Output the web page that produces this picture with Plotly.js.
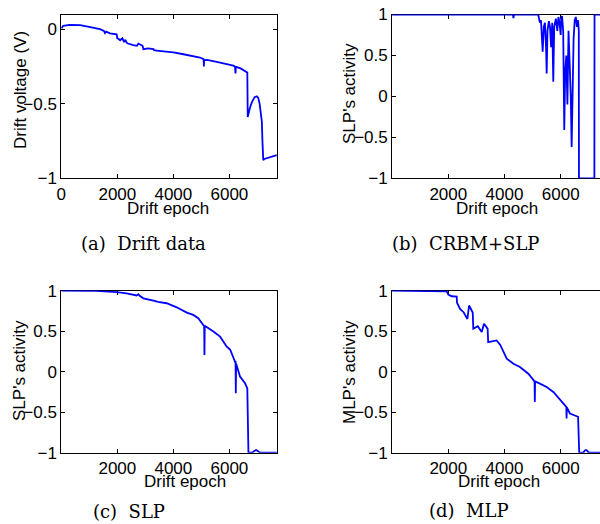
<!DOCTYPE html>
<html>
<head>
<meta charset="utf-8">
<script src="https://cdn.plot.ly/plotly-3.0.1.min.js"></script>
<style>html,body{margin:0;padding:0;background:#fff;}#chart{width:600px;height:524px;}</style>
</head>
<body>
<div id="chart"></div>
<script>
// (a) Drift data
var epochA = [0,70,300,670,900,1150,1380,1520,1560,1600,1740,1976,2000,2050,2100,2180,2240,2290,2330,2380,2450,2570,2700,2750,2800,2900,2930,3100,3290,3310,3400,3760,4000,4360,4700,4950,5080,5090,5100,5110,5200,5550,5900,6140,6200,6220,6230,6240,6400,6620,6640,6655,6680,6730,6800,6900,6980,7030,7080,7130,7160,7180,7210,7250,7400,7550,7690];
var voltA = [0.007,0.024,0.03,0.029,0.02,0.01,0.002,-0.01,-0.025,-0.015,-0.027,-0.033,-0.06,-0.065,-0.073,-0.06,-0.085,-0.07,-0.089,-0.095,-0.10,-0.105,-0.11,-0.096,-0.1,-0.11,-0.133,-0.128,-0.133,-0.14,-0.142,-0.149,-0.155,-0.167,-0.178,-0.189,-0.2,-0.249,-0.205,-0.207,-0.205,-0.218,-0.232,-0.244,-0.25,-0.296,-0.25,-0.252,-0.262,-0.284,-0.29,-0.589,-0.56,-0.53,-0.49,-0.455,-0.449,-0.46,-0.5,-0.58,-0.62,-0.75,-0.878,-0.87,-0.86,-0.852,-0.844];

// (b) CRBM+SLP
var epochB = [0,4300,4320,4340,5200,5260,5300,5340,5359,5400,5440,5480,5502,5530,5580,5620,5660,5700,5737,5770,5830,5880,5920,5960,6000,6020,6050,6090,6128,6160,6200,6240,6280,6320,6360,6391,6420,6460,6500,6540,6580,6620,6645,6651,7200,7205,7400];
var actB = [1,1,0.955,1,1,0.9,0.93,0.7,0.547,0.85,0.9,0.6,0.28,0.8,0.92,0.85,0.6,0.9,0.18,0.85,0.95,0.8,0.97,0.9,0.75,0.95,0.98,0.8,-0.41,0.3,0.5,-0.1,0.8,0.4,0.0,-0.617,0.2,0.7,0.93,0.97,0.85,0.93,0.8,-1,-1,1,1];

// (c) SLP
var epochC = [0,1260,1980,2330,2690,2750,2800,2930,3290,3450,3760,4120,4480,4710,4890,5070,5100,5110,5120,5430,5670,5900,6030,6200,6220,6230,6240,6380,6560,6640,6680,6800,6900,6950,7000,7100,7690];
var actC = [1,0.996,0.98,0.967,0.94,0.955,0.935,0.905,0.877,0.86,0.844,0.794,0.728,0.70,0.66,0.576,0.56,0.206,0.565,0.494,0.432,0.31,0.27,0.123,0.13,-0.267,0.1,-0.06,-0.144,-0.206,-1,-1,-0.975,-0.967,-0.975,-1,-1];

// (d) MLP
var epochD = [0,1500,1945,2000,2120,2300,2310,2420,2550,2680,2740,2870,2890,3050,3190,3270,3400,3420,3720,3850,4080,4320,4550,4850,5030,5070,5080,5090,5260,5500,5740,6090,6200,6210,6220,6330,6620,6660,6800,6880,6920,7000,7400];
var actD = [1,0.995,0.99,0.95,0.93,0.926,0.85,0.775,0.73,0.65,0.816,0.73,0.53,0.56,0.49,0.59,0.53,0.365,0.385,0.33,0.16,0.098,0.057,-0.025,-0.107,-0.12,-0.373,-0.12,-0.148,-0.19,-0.25,-0.393,-0.434,-0.578,-0.44,-0.516,-0.557,-1,-1,-0.967,-0.967,-1,-1];

var xTicksA = [0,2000,4000,6000];
var xTicksOther = [2000,4000,6000];
var yTicksA = [-1,-0.5,0];
var yTicksAct = [-1,-0.5,0,0.5,1];

var captions = ['(a)\u00a0\u00a0Drift data','(b)\u00a0\u00a0CRBM+SLP','(c)\u00a0\u00a0SLP','(d)\u00a0\u00a0MLP'];
var yTitles = ['Drift voltage (V)',"SLP's activity","SLP's activity","MLP's activity"];
var xTitle = 'Drift epoch';

var lineStyle = {color:'#0000ff', width:1.8};
var traces = [
  {x:epochA, y:voltA, type:'scatter', mode:'lines', line:lineStyle, xaxis:'x', yaxis:'y', hoverinfo:'skip'},
  {x:epochB, y:actB, type:'scatter', mode:'lines', line:lineStyle, xaxis:'x2', yaxis:'y2', hoverinfo:'skip'},
  {x:epochC, y:actC, type:'scatter', mode:'lines', line:lineStyle, xaxis:'x3', yaxis:'y3', hoverinfo:'skip'},
  {x:epochD, y:actD, type:'scatter', mode:'lines', line:lineStyle, xaxis:'x4', yaxis:'y4', hoverinfo:'skip'}
];

var tickFont = {family:'Liberation Sans, Arial, sans-serif', size:17, color:'#000'};
function ax(extra){
  var base = {showline:true, linecolor:'#000', linewidth:1, ticks:'inside', ticklen:4, tickcolor:'#000', tickwidth:1,
    zeroline:false, showgrid:false, tickfont:tickFont, layer:'below traces', fixedrange:true};
  for (var k in extra) base[k]=extra[k];
  return base;
}
var W=600, H=524;
function px(x){return x/W;}
function py(y){return 1-y/H;}
var dxL=[61.3/W,277/W], dxR=[392.1/W,1];
var dyT=[py(178.3),py(14.5)], dyB=[py(452.7),py(290.6)];

var annFont = {family:'Liberation Sans, Arial, sans-serif', size:17, color:'#000'};
var capFont = {family:'DejaVu Serif, serif', size:18, color:'#000'};
function ann(text,x,y,font,angle){
  return {text:text, x:px(x), y:py(y), xref:'paper', yref:'paper', xanchor:'center', yanchor:'middle', showarrow:false, font:font, textangle:angle||0};
}

var layout = {
  width:W, height:H, margin:{l:0,r:0,t:0,b:0,pad:0},
  paper_bgcolor:'#fff', plot_bgcolor:'#fff', showlegend:false,
  xaxis: ax({domain:dxL, range:[0,7700], tickvals:xTicksA, mirror:'ticks', anchor:'y'}),
  yaxis: ax({domain:dyT, range:[-1,0.1], tickvals:yTicksA, ticktext:['\u22121','\u22120.5','0'], mirror:'ticks', anchor:'x'}),
  xaxis2: ax({domain:dxR, range:[0,7400], tickvals:xTicksOther, mirror:'ticks', anchor:'y2'}),
  yaxis2: ax({domain:dyT, range:[-1,1], tickvals:yTicksAct, ticktext:['\u22121','\u22120.5','0','0.5','1'], mirror:false, anchor:'x2'}),
  xaxis3: ax({domain:dxL, range:[0,7700], tickvals:xTicksOther, mirror:'ticks', anchor:'y3'}),
  yaxis3: ax({domain:dyB, range:[-1,1], tickvals:yTicksAct, ticktext:['\u22121','\u22120.5','0','0.5','1'], mirror:'ticks', anchor:'x3'}),
  xaxis4: ax({domain:dxR, range:[0,7400], tickvals:xTicksOther, mirror:'ticks', anchor:'y4'}),
  yaxis4: ax({domain:dyB, range:[-1,1], tickvals:yTicksAct, ticktext:['\u22121','\u22120.5','0','0.5','1'], mirror:false, anchor:'x4'}),
  annotations: [
    ann(yTitles[0],20,90,annFont,-90),
    ann(xTitle,167.5,208,annFont),
    ann(yTitles[1],349,94,annFont,-90),
    ann(xTitle,497,208,annFont),
    ann(yTitles[2],19,371,annFont,-90),
    ann(xTitle,185,481,annFont),
    ann(yTitles[3],349,372,annFont,-90),
    ann(xTitle,499,481,annFont),
    ann(captions[0],143.5,243,capFont),
    ann(captions[1],465,243,capFont),
    ann(captions[2],129,511,capFont),
    ann(captions[3],469,510,capFont)
  ]
};
Plotly.newPlot('chart', traces, layout, {staticPlot:true, displayModeBar:false});
</script>
</body>
</html>
